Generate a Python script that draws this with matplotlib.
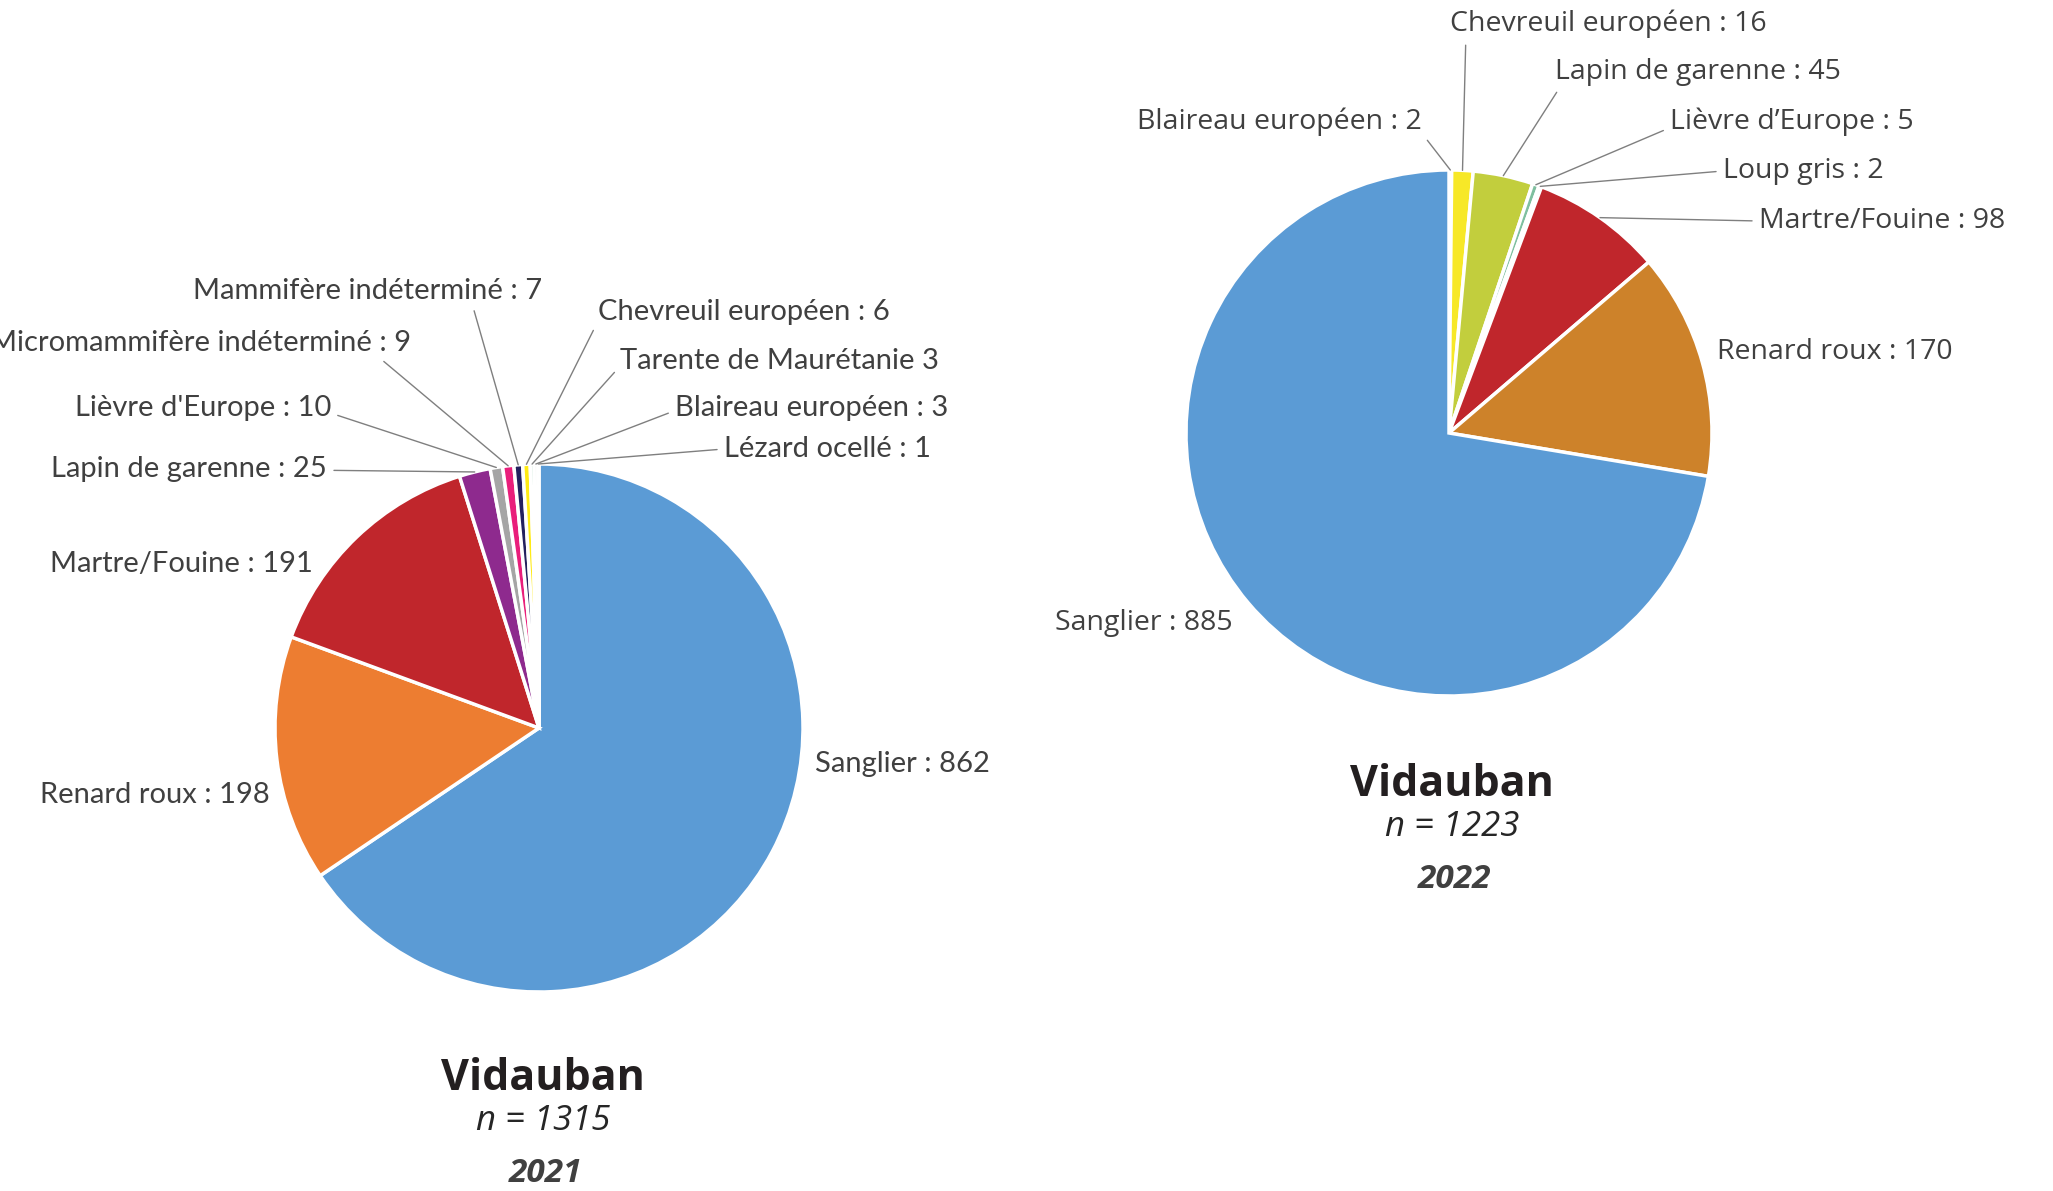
import matplotlib.pyplot as plt
import numpy as np

W, H = 2053, 1191

# 2021 data
species_2021 = ["Sanglier", "Renard roux", "Martre/Fouine", "Lapin de garenne",
                "Lièvre d'Europe", "Micromammifère indéterminé", "Mammifère indéterminé",
                "Chevreuil européen", "Tarente de Maurétanie", "Blaireau européen",
                "Lézard ocellé"]
counts_2021 = [862, 198, 191, 25, 10, 9, 7, 6, 3, 3, 1]
colors_2021 = ["#5B9BD5", "#ED7D31", "#C0262C", "#8E2A8E", "#A5A5A5", "#E91E7B",
               "#23215E", "#FFEB14", "#2E9E5E", "#F2F2F2", "#1A1A1A"]

# 2022 data
species_2022 = ["Blaireau européen", "Chevreuil européen", "Lapin de garenne",
                "Lièvre d’Europe", "Loup gris", "Martre/Fouine", "Renard roux", "Sanglier"]
counts_2022 = [2, 16, 45, 5, 2, 98, 170, 885]
colors_2022 = ["#F2F2F2", "#F7E827", "#C2CE3D", "#7FBF9F", "#E8E8E8", "#C0262C",
               "#CD822A", "#5B9BD5"]

# layout (pixels from top-left): label anchor x, y, alignment, leader start (relpos)
lab_2021 = [(815, 764, "left", None), (270, 795, "right", None), (313, 564, "right", None),
            (327, 469, "right", (1.0, 0.45)), (331, 408, "right", (1.0, 0.3)),
            (411, 343, "right", (0.92, 0.0)), (542, 291, "right", (0.8, 0.0)),
            (598, 312, "left", (0.0, 0.15)), (620, 361, "left", (0.0, 0.3)),
            (675, 408, "left", (0.0, 0.4)), (724, 449, "left", (0.0, 0.5))]
lab_2022 = [(1422, 122, "right", (1.0, 0.1)), (1450, 24, "left", (0.05, 0.0)),
            (1555, 72, "left", (0.02, 0.0)), (1670, 122, "left", (0.0, 0.3)),
            (1723, 171, "left", (0.0, 0.5)), (1759, 221, "left", (0.0, 0.5)),
            (1717, 352, "left", None), (1233, 623, "right", None)]

fig = plt.figure(figsize=(W / 100, H / 100), dpi=100)
ax = fig.add_axes([0, 0, 1, 1])
txt_col = "#404040"


def draw_pie(counts, colors, names, labels, cx, cy, r, font, fsize):
    wedges, _ = ax.pie(counts, colors=colors, startangle=90, counterclock=False,
                       center=(cx, H - cy), radius=r,
                       wedgeprops=dict(edgecolor="white", linewidth=2.5))
    for w, n, c, (lx, ly, ha, rel) in zip(wedges, names, counts, labels):
        sep = " " if n.startswith("Tarente") else " : "
        s = f"{n}{sep}{c}"
        if rel is None:
            ax.text(lx, H - ly, s, ha=ha, va="center", fontsize=fsize,
                    family=font, color=txt_col)
            continue
        mid = np.deg2rad((w.theta1 + w.theta2) / 2)
        px = cx + r * np.cos(mid)
        py = H - cy + r * np.sin(mid)
        ax.annotate(s, xy=(px, py), xytext=(lx, H - ly), ha=ha, va="center",
                    fontsize=fsize, family=font, color=txt_col,
                    arrowprops=dict(arrowstyle="-", color="#7F7F7F", lw=1,
                                    relpos=rel, shrinkA=3, shrinkB=0))


draw_pie(counts_2021, colors_2021, species_2021, lab_2021, 539, 728, 264, "Lato", 21)
draw_pie(counts_2022, colors_2022, species_2022, lab_2022, 1449, 433, 263, "Open Sans", 20.5)

# titles
for x, y, yr, n in [(543, 1078, "2021", "1315"), (1452, 784, "2022", "1223")]:
    ax.text(x, H - y, "Vidauban", ha="center", va="center", fontsize=31,
            family="Open Sans", weight="bold", color="#231F20")
    ax.text(x, H - y - 43, f"n = {n}", ha="center", va="center", fontsize=25,
            family="Open Sans", style="italic", color="#262626")
    ax.text(x + 3, H - y - 96, yr, ha="center", va="center", fontsize=24,
            family="Open Sans", style="italic", weight="bold", color="#404040")

ax.set_xlim(0, W)
ax.set_ylim(0, H)
ax.set_aspect("auto")
ax.axis("off")

fig.savefig("out.png", dpi=100)
